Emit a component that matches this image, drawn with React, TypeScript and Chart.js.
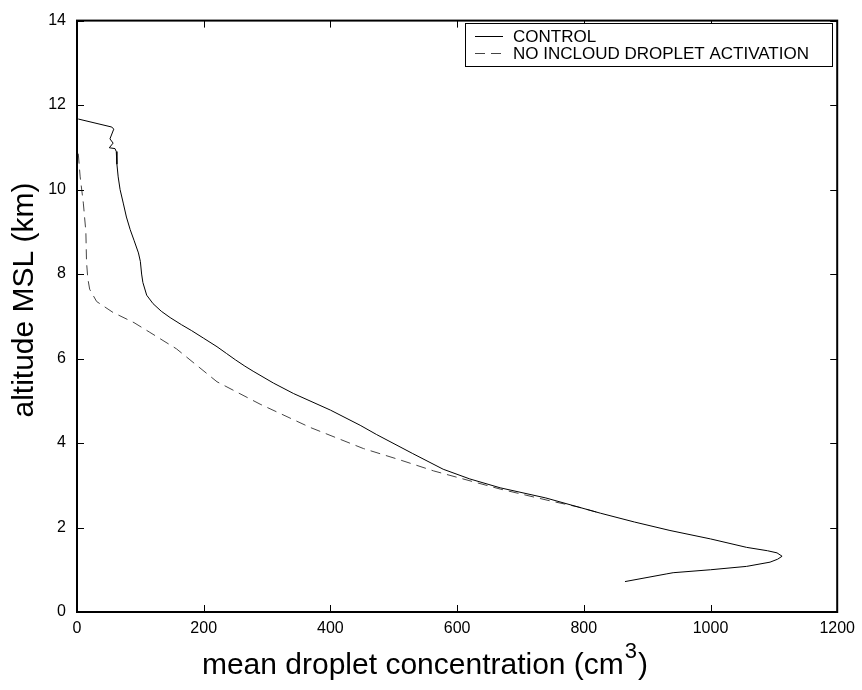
import React, { useEffect, useRef } from "react";
import { Chart, registerables } from "chart.js";

Chart.register(...registerables);

const controlLabel = "CONTROL";
const noActLabel = "NO INCLOUD DROPLET ACTIVATION";

const controlX = [2, 55, 58, 52, 57, 51, 60, 62, 63, 65, 68, 73, 78, 84, 90, 97, 100, 102, 104, 110, 120, 133, 147, 165, 181, 200, 221, 236, 250, 265, 278, 310, 342, 400, 447, 473, 530, 578, 620, 668, 740, 826, 880, 936, 1000, 1057, 1090, 1105, 1113, 1106, 1094, 1057, 1000, 941, 930, 865];
const controlY = [11.67, 11.48, 11.43, 11.2, 11.1, 10.99, 10.97, 10.9, 10.6, 10.3, 10.0, 9.68, 9.35, 9.05, 8.8, 8.5, 8.3, 8.0, 7.8, 7.5, 7.3, 7.12, 6.97, 6.8, 6.66, 6.48, 6.28, 6.12, 5.97, 5.82, 5.7, 5.42, 5.17, 4.78, 4.42, 4.2, 3.75, 3.38, 3.15, 2.94, 2.7, 2.34, 2.13, 1.93, 1.73, 1.53, 1.45, 1.4, 1.32, 1.25, 1.18, 1.08, 1.0, 0.93, 0.9, 0.72];

const noActX = [2, 5, 10, 14, 15, 17, 20, 31, 57, 90, 115, 157, 189, 221, 289, 368, 452, 510, 563, 668, 747, 790, 826];
const noActY = [10.85, 10.3, 9.68, 9.0, 8.3, 7.9, 7.64, 7.35, 7.09, 6.85, 6.62, 6.23, 5.84, 5.45, 4.92, 4.37, 3.87, 3.6, 3.34, 2.91, 2.63, 2.49, 2.34];

const xTicks = [0, 200, 400, 600, 800, 1000, 1200];
const yTicks = [0, 2, 4, 6, 8, 10, 12, 14];

const xTitle = "mean droplet concentration (cm";
const xTitleSup = "3";
const xTitleEnd = ")";
const yTitle = "altitude MSL (km)";

const FONT = "'Liberation Sans', Arial, Helvetica, sans-serif";

const framePlugin = {
  id: "framePlugin",
  afterDraw(chart: any) {
    const { ctx, chartArea: a, scales } = chart;
    const xs = scales.x;
    const ys = scales.y;
    ctx.save();
    ctx.strokeStyle = "#000";
    ctx.lineWidth = 2;
    ctx.strokeRect(a.left, a.top, a.right - a.left, a.bottom - a.top);
    ctx.lineWidth = 1;
    const tl = 7;
    ctx.beginPath();
    xTicks.forEach((v) => {
      const px = Math.round(xs.getPixelForValue(v)) + 0.5;
      ctx.moveTo(px, a.bottom);
      ctx.lineTo(px, a.bottom - tl);
      ctx.moveTo(px, a.top);
      ctx.lineTo(px, a.top + tl);
    });
    yTicks.forEach((v) => {
      const py = Math.round(ys.getPixelForValue(v)) + 0.5;
      ctx.moveTo(a.left, py);
      ctx.lineTo(a.left + tl, py);
      ctx.moveTo(a.right, py);
      ctx.lineTo(a.right - tl, py);
    });
    ctx.stroke();

    // legend
    const lx = 465, ly = 23, lw = 367, lh = 43;
    ctx.fillStyle = "#fff";
    ctx.fillRect(lx, ly, lw, lh);
    ctx.lineWidth = 1;
    ctx.strokeStyle = "#000";
    ctx.strokeRect(lx + 0.5, ly + 0.5, lw, lh);
    const ds = chart.data.datasets;
    const rows = [36, 53];
    ds.forEach((d: any, i: number) => {
      ctx.save();
      ctx.strokeStyle = d.borderColor;
      ctx.lineWidth = 1;
      ctx.setLineDash(d.borderDash || []);
      ctx.beginPath();
      ctx.moveTo(475, rows[i] + 0.5);
      ctx.lineTo(503, rows[i] + 0.5);
      ctx.stroke();
      ctx.restore();
      ctx.fillStyle = "#000";
      ctx.font = `17px ${FONT}`;
      ctx.textAlign = "left";
      ctx.textBaseline = "middle";
      ctx.fillText(d.label, 513, rows[i] + 1);
    });

    // x title with superscript
    ctx.fillStyle = "#000";
    ctx.textBaseline = "alphabetic";
    ctx.textAlign = "left";
    ctx.font = `30px ${FONT}`;
    const w1 = ctx.measureText(xTitle).width;
    ctx.font = `22px ${FONT}`;
    const w2 = ctx.measureText(xTitleSup).width;
    ctx.font = `30px ${FONT}`;
    const w3 = ctx.measureText(xTitleEnd).width;
    const total = w1 + w2 + w3 + 2;
    const cx = 425;
    let sx = cx - total / 2;
    const base = 674;
    ctx.fillText(xTitle, sx, base);
    sx += w1 + 1;
    ctx.font = `22px ${FONT}`;
    ctx.fillText(xTitleSup, sx, base - 16);
    sx += w2 + 1;
    ctx.font = `30px ${FONT}`;
    ctx.fillText(xTitleEnd, sx, base);

    // y title
    ctx.save();
    ctx.translate(25, 300);
    ctx.rotate(-Math.PI / 2);
    ctx.textAlign = "center";
    ctx.textBaseline = "middle";
    ctx.font = `30px ${FONT}`;
    ctx.fillText(yTitle, 0, 0);
    ctx.restore();

    ctx.restore();
  },
};

export default function App() {
  const ref = useRef<HTMLCanvasElement | null>(null);
  useEffect(() => {
    document.body.style.margin = "0";
    const canvas = ref.current!;
    const toPts = (xs: number[], ys: number[]) => xs.map((x, i) => ({ x, y: ys[i] }));
    const chart = new Chart(canvas, {
      type: "scatter",
      data: {
        datasets: [
          {
            label: controlLabel,
            data: toPts(controlX, controlY),
            showLine: true,
            borderColor: "#000",
            borderWidth: 1,
            pointRadius: 0,
            tension: 0,
          },
          {
            label: noActLabel,
            data: toPts(noActX, noActY),
            showLine: true,
            borderColor: "#444",
            borderWidth: 1,
            borderDash: [10, 6],
            pointRadius: 0,
            tension: 0,
          },
        ],
      },
      options: {
        animation: false,
        responsive: false,
        devicePixelRatio: 1,
        layout: { padding: { top: 16, right: 24, left: 0, bottom: 0 } },
        plugins: { legend: { display: false }, tooltip: { enabled: false }, title: { display: false } },
        scales: {
          x: {
            type: "linear",
            min: 0,
            max: 1200,
            grid: { display: false, drawTicks: false },
            border: { display: false },
            afterBuildTicks: (s: any) => { s.ticks = xTicks.map((v) => ({ value: v })); },
            afterFit: (s: any) => { s.height = 78; },
            ticks: { color: "#000", padding: 7, maxRotation: 0, font: { family: FONT, size: 16 }, callback: (v: any) => String(v) },
          },
          y: {
            type: "linear",
            min: 0,
            max: 14,
            grid: { display: false, drawTicks: false },
            border: { display: false },
            afterBuildTicks: (s: any) => { s.ticks = yTicks.map((v) => ({ value: v })); },
            afterFit: (s: any) => { s.width = 77; },
            ticks: { color: "#000", padding: 11, font: { family: FONT, size: 16 }, callback: (v: any) => String(v) },
          },
        },
      },
      plugins: [framePlugin],
    });
    return () => chart.destroy();
  }, []);
  return <canvas ref={ref} width={862} height={690} style={{ display: "block" }} />;
}
